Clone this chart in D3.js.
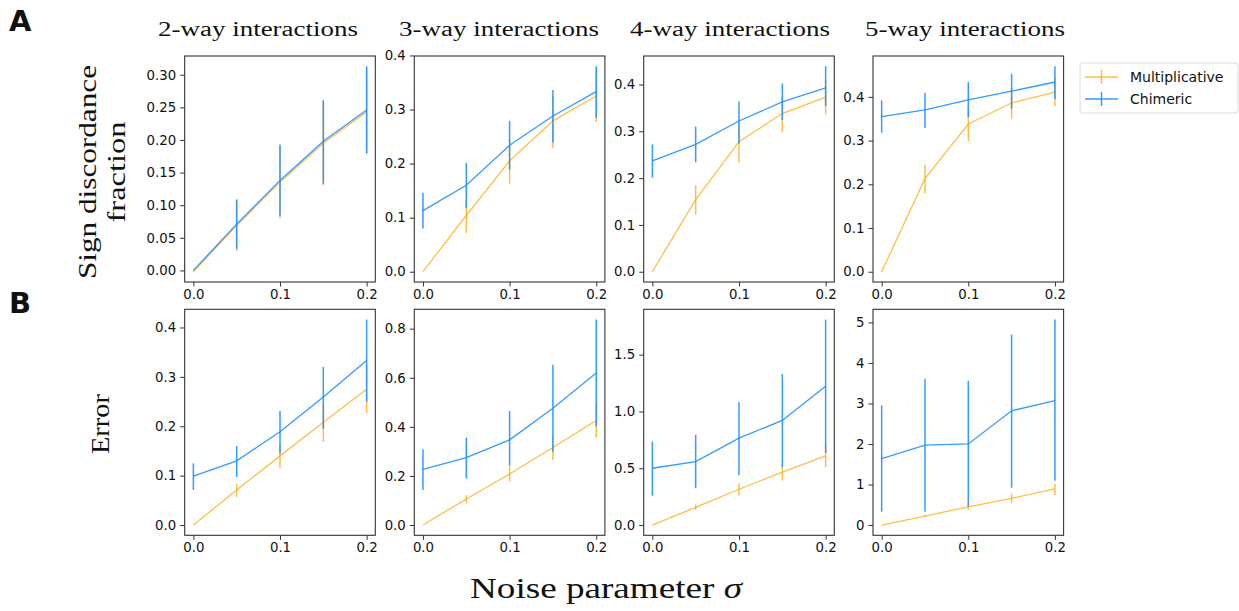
<html>
<head>
<meta charset="utf-8">
<title>Sign discordance and error vs noise</title>
<script src="https://cdn.jsdelivr.net/npm/d3@7"></script>
<style>
  body { margin: 0; background: #fff; }
  .tick text { font-family: "DejaVu Sans", sans-serif; font-size: 13.3px; fill: #111; }
  .tick line { stroke: #333; }
</style>
</head>
<body>
<svg width="1239" height="611"></svg>
<script>
// noise levels (x)
var sigma = [0, 0.05, 0.1, 0.15, 0.2];
var orders = ["2-way interactions", "3-way interactions", "4-way interactions", "5-way interactions"];
var seriesNames = ["Multiplicative", "Chimeric"];

// row A: sign discordance fraction, one row per interaction order
var signMultMean = [[-0.002,0.069,0.135,0.195,0.243],[0,0.104,0.205,0.279,0.325],[0,0.154,0.278,0.338,0.373],[0,0.213,0.338,0.386,0.411]];
var signMultLo   = [[-0.002,0.030,0.080,0.130,0.178],[0,0.072,0.163,0.229,0.277],[0,0.122,0.233,0.298,0.336],[0,0.179,0.299,0.350,0.379]];
var signMultHi   = [[-0.002,0.108,0.190,0.259,0.310],[0,0.135,0.245,0.325,0.371],[0,0.185,0.318,0.375,0.409],[0,0.245,0.379,0.421,0.443]];
var signChimMean = [[0,0.071,0.138,0.198,0.246],[0.113,0.160,0.234,0.288,0.333],[0.237,0.272,0.322,0.363,0.393],[0.355,0.370,0.393,0.413,0.434]];
var signChimLo   = [[0,0.033,0.083,0.133,0.180],[0.080,0.118,0.189,0.239,0.285],[0.201,0.234,0.274,0.324,0.354],[0.318,0.329,0.354,0.373,0.395]];
var signChimHi   = [[0,0.109,0.193,0.261,0.313],[0.146,0.201,0.279,0.336,0.380],[0.272,0.310,0.364,0.402,0.439],[0.392,0.409,0.434,0.453,0.470]];

// row B: error
var errMultMean = [[0,0.071,0.140,0.208,0.275],[0,0.106,0.208,0.316,0.426],[0,0.156,0.315,0.465,0.609],[0,0.22,0.45,0.66,0.89]];
var errMultLo   = [[0,0.057,0.115,0.168,0.226],[0,0.088,0.177,0.265,0.356],[0,0.132,0.259,0.391,0.509],[0,0.19,0.37,0.55,0.74]];
var errMultHi   = [[0,0.083,0.162,0.245,0.324],[0,0.122,0.241,0.367,0.493],[0,0.182,0.368,0.529,0.706],[0,0.25,0.54,0.78,1.01]];
var errChimMean = [[0.099,0.130,0.189,0.259,0.333],[0.227,0.275,0.347,0.476,0.619],[0.50,0.559,0.765,0.921,1.221],[1.64,1.97,2.00,2.82,3.07]];
var errChimLo   = [[0.071,0.097,0.145,0.195,0.250],[0.143,0.190,0.242,0.299,0.401],[0.259,0.324,0.441,0.513,0.633],[0.33,0.33,0.46,0.92,1.09]];
var errChimHi   = [[0.125,0.160,0.231,0.320,0.416],[0.309,0.356,0.465,0.653,0.837],[0.735,0.794,1.082,1.329,1.809],[2.95,3.61,3.56,4.70,5.07]];

// tick labels
var xTicks = [0, 0.1, 0.2];
var signTicks = [[0,0.05,0.1,0.15,0.2,0.25,0.3],[0,0.1,0.2,0.3,0.4],[0,0.1,0.2,0.3,0.4],[0,0.1,0.2,0.3,0.4]];
var errTicks  = [[0,0.1,0.2,0.3,0.4],[0,0.2,0.4,0.6,0.8],[0,0.5,1.0,1.5],[0,1,2,3,4,5]];
var signFmt = [".2f", ".1f", ".1f", ".1f"];
var errFmt  = [".1f", ".1f", ".1f", "d"];

var colors = ["orange", "#1E90FF"];
var opac = [0.72, 0.9];

var svg = d3.select("svg");
var colX = [184.7, 414.3, 643.7, 873], pw = 190.6, ph = 226;
var rowY = [56, 309.3];
var titleX = [258, 499, 730, 965];

var rows = [
  {mean:[signMultMean, signChimMean], lo:[signMultLo, signChimLo], hi:[signMultHi, signChimHi], ticks:signTicks, fmt:signFmt},
  {mean:[errMultMean, errChimMean], lo:[errMultLo, errChimLo], hi:[errMultHi, errChimHi], ticks:errTicks, fmt:errFmt}
];

var xScale = d3.scaleLinear().domain([-0.01, 0.21]).range([0, pw]);

rows.forEach(function(row, r){
  for (var c = 0; c < 4; c++) {
    var all = [];
    [0,1].forEach(function(s){ all = all.concat(row.lo[s][c], row.hi[s][c], row.mean[s][c]); });
    var lo = d3.min(all), hi = d3.max(all), pad = (hi - lo) * 0.05;
    var y = d3.scaleLinear().domain([lo - pad, hi + pad]).range([ph, 0]);
    var g = svg.append("g").attr("transform", "translate(" + colX[c] + "," + rowY[r] + ")");

    [0,1].forEach(function(s){
      var pts = sigma.map(function(v, i){ return {x:v, m:row.mean[s][c][i], lo:row.lo[s][c][i], hi:row.hi[s][c][i]}; });
      var sg = g.append("g").attr("stroke", colors[s]).attr("stroke-opacity", opac[s]).attr("fill", "none");
      sg.append("path")
        .attr("stroke-width", 1.3)
        .attr("d", d3.line().x(function(d){ return xScale(d.x); }).y(function(d){ return y(d.m); })(pts));
      sg.selectAll("line").data(pts.filter(function(d){ return d.hi > d.lo; })).enter().append("line")
        .attr("stroke-width", 1.5)
        .attr("x1", function(d){ return xScale(d.x); }).attr("x2", function(d){ return xScale(d.x); })
        .attr("y1", function(d){ return y(d.lo); }).attr("y2", function(d){ return y(d.hi); });
    });

    g.append("rect").attr("width", pw).attr("height", ph)
      .attr("fill", "none").attr("stroke", "#333").attr("stroke-width", 1.1);

    var ya = g.append("g").call(d3.axisLeft(y).tickValues(row.ticks[c]).tickFormat(d3.format(row.fmt[c])).tickSize(4.5).tickPadding(4));
    ya.select(".domain").remove();
    var xa = g.append("g").attr("transform", "translate(0," + ph + ")")
      .call(d3.axisBottom(xScale).tickValues(xTicks).tickFormat(d3.format(".1f")).tickSize(4.5).tickPadding(3));
    xa.select(".domain").remove();

    if (r === 0) {
      svg.append("text").text(orders[c])
        .attr("x", titleX[c]).attr("y", 36)
        .attr("text-anchor", "middle")
        .attr("textLength", 200).attr("lengthAdjust", "spacingAndGlyphs")
        .style("font", "20.5px 'Liberation Serif', serif").style("fill", "#111");
    }
  }
});

// panel letters
svg.append("text").text("A").attr("x", 9).attr("y", 31)
  .style("font", "bold 29px 'DejaVu Sans', sans-serif").style("fill", "#111");
svg.append("text").text("B").attr("x", 9).attr("y", 313)
  .style("font", "bold 29px 'DejaVu Sans', sans-serif").style("fill", "#111");

// axis labels
var serif = "24.5px 'Liberation Serif', serif";
svg.append("text").text("Sign discordance")
  .attr("transform", "translate(96,172) rotate(-90)").attr("text-anchor", "middle")
  .attr("textLength", 214).attr("lengthAdjust", "spacingAndGlyphs")
  .style("font", serif).style("fill", "#111");
svg.append("text").text("fraction")
  .attr("transform", "translate(125,172) rotate(-90)").attr("text-anchor", "middle")
  .attr("textLength", 101).attr("lengthAdjust", "spacingAndGlyphs")
  .style("font", serif).style("fill", "#111");
svg.append("text").text("Error")
  .attr("transform", "translate(109,424) rotate(-90)").attr("text-anchor", "middle")
  .attr("textLength", 60).attr("lengthAdjust", "spacingAndGlyphs")
  .style("font", serif).style("fill", "#111");

var xl = svg.append("text").attr("x", 606).attr("y", 598).attr("text-anchor", "middle")
  .attr("textLength", 272).attr("lengthAdjust", "spacingAndGlyphs")
  .style("font", "30px 'Liberation Serif', serif").style("fill", "#111");
xl.append("tspan").text("Noise parameter ");
xl.append("tspan").text("σ").style("font-style", "italic");

// legend
var leg = svg.append("g").attr("transform", "translate(1080,63)");
leg.append("rect").attr("width", 158).attr("height", 50).attr("rx", 3)
  .attr("fill", "#fff").attr("stroke", "#ddd");
seriesNames.forEach(function(name, i){
  var ly = 14 + i * 22;
  var e = leg.append("g").attr("stroke", colors[i]).attr("stroke-opacity", opac[i]).attr("stroke-width", 1.5);
  e.append("line").attr("x1", 5).attr("x2", 38).attr("y1", ly).attr("y2", ly);
  e.append("line").attr("x1", 21.5).attr("x2", 21.5).attr("y1", ly - 7).attr("y2", ly + 7);
  leg.append("text").text(name).attr("x", 50).attr("y", ly + 5)
    .style("font", "14px 'DejaVu Sans', sans-serif").style("fill", "#111");
});
</script>
</body>
</html>
